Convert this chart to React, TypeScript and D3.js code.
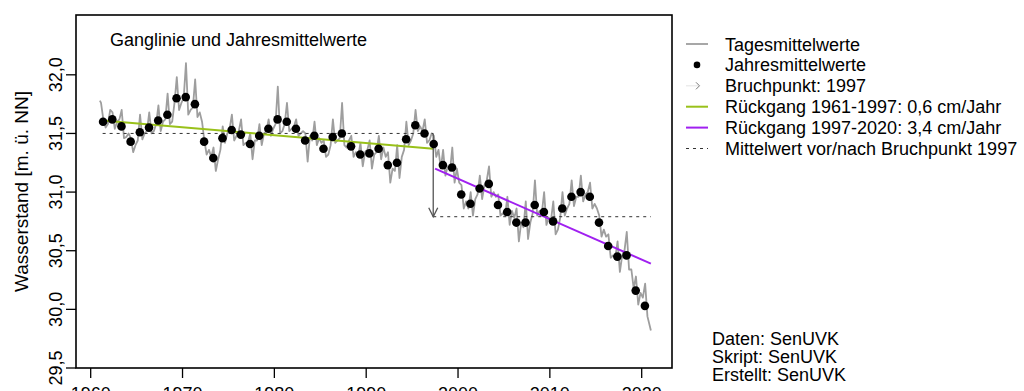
import * as d3 from 'd3'

// Jahresmittelwerte 1961-2020
const years = d3.range(1961, 2021)
const annualMeans = [
  31.60, 31.62, 31.56, 31.43, 31.51, 31.55, 31.61, 31.66, 31.80, 31.81,
  31.75, 31.43, 31.29, 31.46, 31.53, 31.49, 31.41, 31.48, 31.54, 31.62,
  31.60, 31.54, 31.44, 31.48, 31.37, 31.47, 31.50, 31.39, 31.32, 31.33,
  31.37, 31.23, 31.25, 31.45, 31.57, 31.50, 31.41, 31.23, 31.21, 30.98,
  30.90, 31.03, 31.07, 30.89, 30.83, 30.74, 30.74, 30.89, 30.83, 30.75,
  30.86, 30.96, 31.00, 30.96, 30.74, 30.54, 30.45, 30.46, 30.16, 30.03,
]

const dailyLevels = [
  31.76, 31.62, 31.55, 31.58, 31.70, 31.68, 31.54, 31.60, 31.62, 31.70, 31.46, 31.47,
  31.50, 31.46, 31.34, 31.40, 31.44, 31.66, 31.45, 31.50, 31.52, 31.68, 31.50, 31.52,
  31.58, 31.74, 31.52, 31.60, 31.62, 31.84, 31.58, 31.60, 31.76, 31.98, 31.70, 31.76,
  31.80, 32.10, 31.66, 31.70, 31.72, 31.96, 31.64, 31.68, 31.60, 31.44, 31.32, 31.36,
  31.30, 31.38, 31.18, 31.28, 31.36, 31.56, 31.42, 31.50, 31.54, 31.66, 31.44, 31.48,
  31.52, 31.62, 31.40, 31.42, 31.42, 31.50, 31.28, 31.44, 31.44, 31.58, 31.40, 31.50,
  31.52, 31.62, 31.48, 31.54, 31.58, 31.90, 31.50, 31.52, 31.58, 31.76, 31.52, 31.54,
  31.56, 31.62, 31.48, 31.50, 31.52, 31.50, 31.26, 31.48, 31.44, 31.60, 31.40, 31.46,
  31.42, 31.44, 31.30, 31.32, 31.40, 31.62, 31.42, 31.44, 31.46, 31.76, 31.40, 31.38,
  31.44, 31.48, 31.30, 31.34, 31.30, 31.42, 31.22, 31.34, 31.36, 31.44, 31.20, 31.32,
  31.34, 31.48, 31.28, 31.38, 31.30, 31.34, 31.08, 31.20, 31.18, 31.40, 31.12, 31.30,
  31.36, 31.60, 31.40, 31.44, 31.50, 31.70, 31.52, 31.56, 31.52, 31.62, 31.42, 31.44,
  31.50, 31.48, 31.30, 31.36, 31.20, 31.36, 31.14, 31.22, 31.18, 31.38, 31.08, 31.20,
  31.08, 31.06, 30.86, 30.92, 30.86, 31.00, 30.80, 30.94, 30.98, 31.14, 30.94, 31.06,
  31.10, 31.22, 30.96, 31.00, 30.96, 30.98, 30.80, 30.82, 30.80, 30.96, 30.72, 30.84,
  30.78, 30.86, 30.58, 30.74, 30.70, 30.92, 30.60, 30.74, 30.82, 31.10, 30.80, 30.84,
  30.82, 31.00, 30.72, 30.78, 30.76, 30.92, 30.64, 30.68, 30.78, 31.00, 30.80, 30.86,
  30.90, 31.10, 30.88, 30.96, 30.96, 31.14, 30.92, 30.98, 31.00, 31.08, 30.86, 30.90,
  30.86, 30.80, 30.62, 30.68, 30.62, 30.64, 30.44, 30.46, 30.44, 30.58, 30.32, 30.46,
  30.50, 30.66, 30.34, 30.34, 30.18, 30.28, 30.04, 30.14, 30.10, 30.22, 29.94, 29.86,
]
const dailyStart = 31.78
const dailyEnd = 29.82

// trends and means around the break point
const breakYear = 1997.3
const trendBefore = [[1961.3, 31.61], [1997.3, 31.37]]
const trendAfter = [[1997.5, 31.2], [2021, 30.39]]
const meanBefore = 31.5
const meanAfter = 30.79

const yTicks = [29.5, 30, 30.5, 31, 31.5, 32]
const xTicks = [1960, 1970, 1980, 1990, 2000, 2010, 2020]

const legendItems = [
  'Tagesmittelwerte',
  'Jahresmittelwerte',
  'Bruchpunkt: 1997',
  'Rückgang 1961-1997: 0,6 cm/Jahr',
  'Rückgang 1997-2020: 3,4 cm/Jahr',
  'Mittelwert vor/nach Bruchpunkt 1997',
]
const credits = ['Daten: SenUVK', 'Skript: SenUVK', 'Erstellt: SenUVK']

const W = 1024
const H = 391
const margin = { top: 15, right: 352, bottom: 23, left: 76 }
const FONT = '"Liberation Sans", Arial, sans-serif'
const GREEN = '#99c11a'
const PURPLE = '#a020f0'
const GREY = '#9e9e9e'
const FS = 18

export default function App() {
  const innerW = W - margin.left - margin.right
  const innerH = H - margin.top - margin.bottom
  const x = d3.scaleLinear().domain([1958.4, 2023.3]).range([margin.left, margin.left + innerW])
  const y = d3.scaleLinear().domain([29.5, 32.51]).range([margin.top + innerH, margin.top])

  const daily: [number, number][] = [[1961.0, dailyStart]]
  dailyLevels.forEach((v, i) => {
    daily.push([1961 + Math.floor(i / 4) + 0.125 + (i % 4) * 0.25, v])
  })
  daily.push([2021.0, dailyEnd])

  const line = d3.line<number[]>().x((d) => x(d[0])).y((d) => y(d[1]))
  const bottom = margin.top + innerH
  const left = margin.left

  const legX = 686
  const legY = (i: number) => 44 + i * 20.9

  return (
    <svg width={W} height={H} style={{ position: 'absolute', left: 0, top: 0, fontFamily: FONT }}>
      <rect width={W} height={H} fill="#fff" />

      <path d={line(daily) || ''} fill="none" stroke={GREY} strokeWidth={1.8} strokeLinejoin="round" />

      <line x1={x(1961.3)} x2={x(breakYear)} y1={y(meanBefore)} y2={y(meanBefore)} stroke="#333" strokeDasharray="3,4" />
      <line x1={x(breakYear)} x2={x(2021)} y1={y(meanAfter)} y2={y(meanAfter)} stroke="#333" strokeDasharray="3,4" />

      <path d={line(trendBefore) || ''} stroke={GREEN} strokeWidth={2} fill="none" />
      <path d={line(trendAfter) || ''} stroke={PURPLE} strokeWidth={2} fill="none" />

      <line x1={x(breakYear)} x2={x(breakYear)} y1={y(meanBefore)} y2={y(meanAfter)} stroke="#555" strokeWidth={1.3} />
      <path
        d={`M${x(breakYear) - 4.5},${y(meanAfter) - 9} L${x(breakYear)},${y(meanAfter)} L${x(breakYear) + 4.5},${y(meanAfter) - 9}`}
        fill="none"
        stroke="#555"
        strokeWidth={1.3}
      />

      {annualMeans.map((v, i) => (
        <circle key={i} cx={x(years[i] + 0.35)} cy={y(v)} r={4.3} fill="#000" />
      ))}

      <rect x={left} y={margin.top} width={innerW} height={innerH} fill="none" stroke="#000" strokeWidth={1.6} />

      {yTicks.map((t) => (
        <g key={t}>
          <line x1={left} x2={left - 10} y1={y(t)} y2={y(t)} stroke="#000" strokeWidth={1.3} />
          <text transform={`translate(${left - 14},${y(t)}) rotate(-90)`} textAnchor="middle" fontSize={FS}>
            {t.toFixed(1).replace('.', ',')}
          </text>
        </g>
      ))}
      {xTicks.map((t) => (
        <g key={t}>
          <line x1={x(t)} x2={x(t)} y1={bottom} y2={bottom + 10} stroke="#000" strokeWidth={1.3} />
          <text x={x(t)} y={bottom + 32} textAnchor="middle" fontSize={FS}>
            {t}
          </text>
        </g>
      ))}

      <text transform={`translate(28,${(margin.top + bottom) / 2}) rotate(-90)`} textAnchor="middle" fontSize={19}>
        Wasserstand [m. ü. NN]
      </text>

      <text x={110} y={45.5} fontSize={FS}>
        Ganglinie und Jahresmittelwerte
      </text>

      <g>
        <line x1={legX} x2={legX + 22} y1={legY(0)} y2={legY(0)} stroke={GREY} strokeWidth={1.8} />
        <circle cx={legX + 11} cy={legY(1)} r={3.3} fill="#000" />
        <line x1={legX} x2={legX + 13} y1={legY(2)} y2={legY(2)} stroke="#e8e8e8" strokeWidth={1.2} />
        <path
          d={`M${legX + 10},${legY(2) - 3.5} L${legX + 13.5},${legY(2)} L${legX + 10},${legY(2) + 3.5}`}
          fill="none"
          stroke="#777"
          strokeWidth={1}
        />
        <line x1={legX} x2={legX + 22} y1={legY(3)} y2={legY(3)} stroke={GREEN} strokeWidth={2} />
        <line x1={legX} x2={legX + 22} y1={legY(4)} y2={legY(4)} stroke={PURPLE} strokeWidth={2} />
        <line x1={legX} x2={legX + 22} y1={legY(5)} y2={legY(5)} stroke="#333" strokeDasharray="3,4" />
        {legendItems.map((s, i) => (
          <text key={s} x={725} y={legY(i) + 6.5} fontSize={FS}>
            {s}
          </text>
        ))}
      </g>

      {credits.map((s, i) => (
        <text key={s} x={712} y={345 + i * 18} fontSize={FS}>
          {s}
        </text>
      ))}
    </svg>
  )
}
